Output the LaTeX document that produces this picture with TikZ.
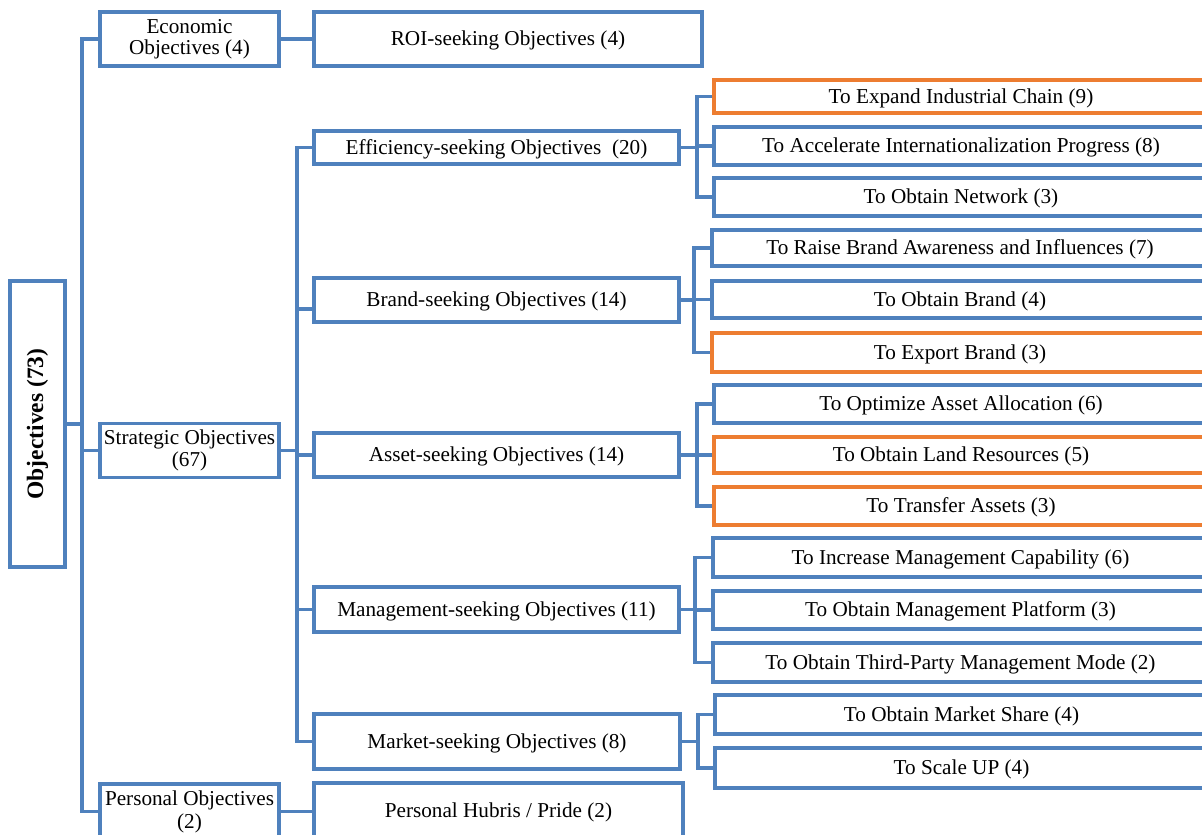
\documentclass[tikz,border=0pt]{standalone}
\usepackage{fontspec}
\setmainfont{Liberation Serif}
\definecolor{lineblue}{RGB}{79,129,189}
\definecolor{lineorange}{RGB}{237,125,49}
\begin{document}
\begin{tikzpicture}[x=1pt,y=-1pt,
  box/.style={draw=lineblue, line width=3.4pt, inner sep=0pt, align=center,
    font=\fontsize{21.2}{21.5}\selectfont},
  one/.style={box, text height=17.5pt, text depth=4.5pt},
  hot/.style={one, draw=lineorange},
  link/.style={draw=lineblue, line width=3.4pt},
  leafA/.style={minimum width=494},
  leafB/.style={minimum width=496},
]
\useasboundingbox (0,0) rectangle (1202,835);
\clip (0,0) rectangle (1202,835);

% root
\node[box, minimum width=55, minimum height=286] (root) at (37.5,424)
  {\rotatebox{90}{\fontsize{23.5}{23.5}\selectfont\bfseries Objectives (73)}};

% first level
\node[box, minimum width=179, minimum height=54] (eco) at (189.5,39) {Economic\\Objectives (4)};
\node[box, minimum width=179, minimum height=54] (strat) at (189.5,450.5) {Strategic Objectives\\(67)};
\node[box, minimum width=179, minimum height=55, font=\fontsize{21.2}{23}\selectfont] (pers) at (189.5,811.5) {Personal Objectives\\(2)};

% second level
\node[one, minimum width=388, minimum height=54] (roi) at (508,39) {ROI-seeking Objectives (4)};
\node[one, minimum width=365, minimum height=33] (eff) at (496.5,147.5) {Efficiency-seeking Objectives\ \ (20)};
\node[one, minimum width=365, minimum height=44] (brand) at (496.5,300) {Brand-seeking Objectives (14)};
\node[one, minimum width=365, minimum height=44] (asset) at (496.5,455) {Asset-seeking Objectives (14)};
\node[one, minimum width=365, minimum height=45] (mgmt) at (496.5,609.5) {Management-seeking Objectives (11)};
\node[one, minimum width=366, minimum height=55] (mkt) at (497,741.5) {Market-seeking Objectives (8)};
\node[one, minimum width=369, minimum height=55] (hub) at (498.5,810.5) {Personal Hubris / Pride (2)};

% third level
\node[hot, leafA, minimum height=33] (e1) at (961,96.5) {To Expand Industrial Chain (9)};
\node[one, leafA, minimum height=38] (e2) at (961,146) {To Accelerate Internationalization Progress (8)};
\node[one, leafA, minimum height=38] (e3) at (961,197) {To Obtain Network (3)};

\node[one, leafB, minimum height=36] (b1) at (960,248) {To Raise Brand Awareness and Influences (7)};
\node[one, leafB, minimum height=37] (b2) at (960,299.5) {To Obtain Brand (4)};
\node[hot, leafB, minimum height=39] (b3) at (960,352.5) {To Export Brand (3)};

\node[one, leafA, minimum height=38] (a1) at (961,404) {To Optimize Asset Allocation (6)};
\node[hot, leafA, minimum height=36] (a2) at (961,455) {To Obtain Land Resources (5)};
\node[hot, leafA, minimum height=38] (a3) at (961,506) {To Transfer Assets (3)};

\node[one, minimum width=495, minimum height=39] (m1) at (960.5,557.5) {To Increase Management Capability (6)};
\node[one, minimum width=495, minimum height=38] (m2) at (960.5,610) {To Obtain Management Platform (3)};
\node[one, minimum width=495, minimum height=39] (m3) at (960.5,662.5) {To Obtain Third-Party Management Mode (2)};

\node[one, minimum width=493, minimum height=39] (k1) at (961.5,714.5) {To Obtain Market Share (4)};
\node[one, minimum width=493, minimum height=40] (k2) at (961.5,768) {To Scale UP (4)};

% junction columns
\coordinate (j1) at (82,0);
\coordinate (j2) at (297,0);
\coordinate (je) at (697,0);
\coordinate (jb) at (694,0);
\coordinate (ja) at (697,0);
\coordinate (jm) at (695,0);
\coordinate (jk) at (698,0);

% root to first level
\draw[link] (eco.west) -- (eco.west -| j1) -- (pers.west -| j1) -- (pers.west);
\draw[link] (root.east) -- (root.east -| j1);
\draw[link] (strat.west) -- (strat.west -| j1);

% first to second level
\draw[link] (eco.east) -- (roi.west);
\draw[link] (pers.east) -- (pers.east -| hub.west);
\draw[link] (eff.west) -- (eff.west -| j2) -- (mkt.west -| j2) -- (mkt.west);
\draw[link] (strat.east) -- (strat.east -| j2);
\draw[link] ([yshift=-9pt]brand.west) -- ([yshift=-9pt]brand.west -| j2);
\draw[link] (asset.west) -- (asset.west -| j2);
\draw[link] (mgmt.west) -- (mgmt.west -| j2);

% second to third level
\draw[link] (eff.east) -- (eff.east -| je);
\draw[link] (e1.west) -- (e1.west -| je) -- (e3.west -| je) -- (e3.west);
\draw[link] (e2.west) -- (e2.west -| je);

\draw[link] (brand.east) -- (brand.east -| jb);
\draw[link] (b1.west) -- (b1.west -| jb) -- (b3.west -| jb) -- (b3.west);
\draw[link] (b2.west) -- (b2.west -| jb);

\draw[link] (asset.east) -- (asset.east -| ja);
\draw[link] (a1.west) -- (a1.west -| ja) -- (a3.west -| ja) -- (a3.west);
\draw[link] (a2.west) -- (a2.west -| ja);

\draw[link] (mgmt.east) -- (mgmt.east -| jm);
\draw[link] (m1.west) -- (m1.west -| jm) -- (m3.west -| jm) -- (m3.west);
\draw[link] (m2.west) -- (m2.west -| jm);

\draw[link] (mkt.east) -- (mkt.east -| jk);
\draw[link] (k1.west) -- (k1.west -| jk) -- (k2.west -| jk) -- (k2.west);
\end{tikzpicture}
\end{document}
